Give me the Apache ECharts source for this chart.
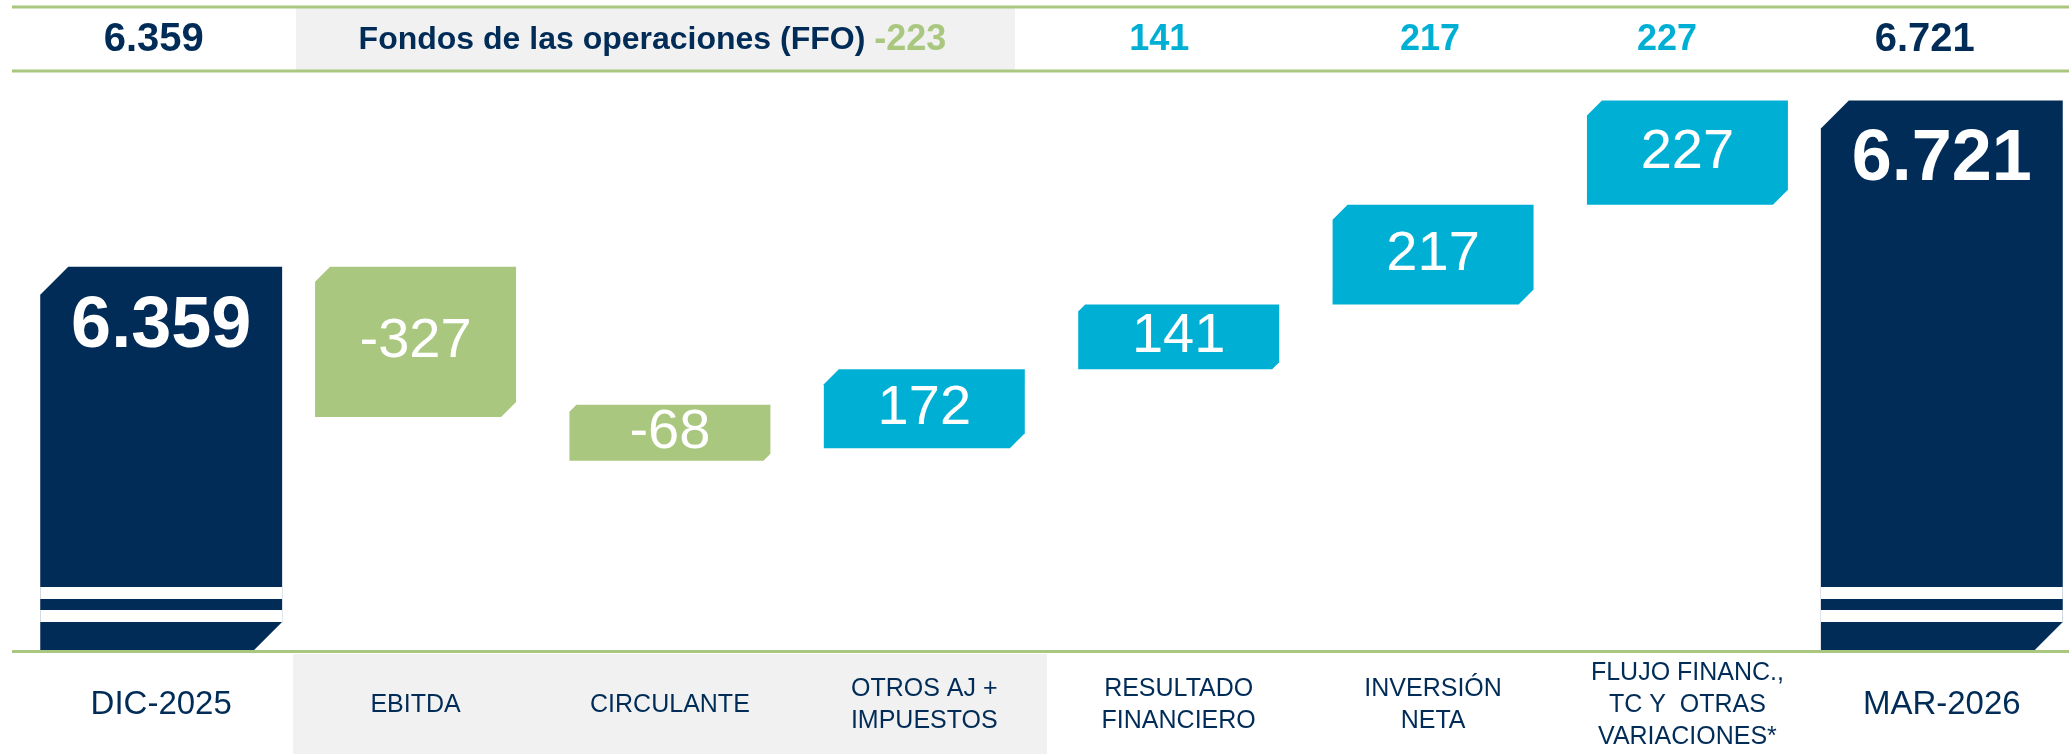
<!DOCTYPE html>
<html lang="es">
<head>
<meta charset="UTF-8">
<title>Deuda neta</title>
<script src="https://cdn.jsdelivr.net/npm/echarts@6/dist/echarts.min.js"></script>
<style>
  html, body { margin: 0; padding: 0; background: #fff; }
  #main { width: 2069px; height: 754px; }
</style>
</head>
<body>
<div id="main"></div>
<script>
// datos
var categories = ['DIC-2025', 'EBITDA', 'CIRCULANTE', 'OTROS AJ +\nIMPUESTOS', 'RESULTADO\nFINANCIERO',
    'INVERSIÓN\nNETA', 'FLUJO FINANC.,\nTC Y  OTRAS\nVARIACIONES*', 'MAR-2026'];
var startTotal = 6359;
var steps = [-327, -68, 172, 141, 217, 227];
var endTotal = 6721;
var ffoTitle = 'Fondos de las operaciones (FFO)';
var ffoSteps = 3; // los tres primeros pasos forman el FFO

var NAVY = '#002c57', GREEN = '#a9c77f', CYAN = '#00b0d4', LINE = '#a9c77e', GRAY = '#f1f1f1';
var FONT = '"Liberation Sans", Arial, sans-serif';
var yMin = 5525, yMax = 6785;
var headerShift = [15, 0, 35, 0, 39, 6, 41, 34];
var minStepHeight = 56; // como barMinHeight, centrado en el tramo

function fmt(v) {
    var s = String(Math.abs(v)).replace(/\B(?=(\d{3})+(?!\d))/g, '.');
    return (v < 0 ? '-' : '') + s;
}

var ffoSum = 0;
for (var k = 0; k < ffoSteps; k++) ffoSum += steps[k];

// filas de la cascada: [indice, bajo, alto, tipo (0 total, 1 paso), valor]
var rows = [];
rows.push([0, yMin, startTotal, 0, startTotal]);
var level = startTotal;
steps.forEach(function (s, i) {
    var next = level + s;
    rows.push([i + 1, Math.min(level, next), Math.max(level, next), 1, s]);
    level = next;
});
rows.push([steps.length + 1, yMin, endTotal, 0, endTotal]);

function renderBar(params, api) {
    var idx = api.value(0), lo = api.value(1), hi = api.value(2), kind = api.value(3), val = api.value(4);
    var band = api.size([1, 0])[0];
    var cs = params.coordSys;
    var top = api.coord([idx, hi]);
    var cx = top[0], yTop = top[1];
    var yBot = kind === 0 ? cs.y + cs.height : api.coord([idx, lo])[1];
    if (kind === 1 && yBot - yTop < minStepHeight) {
        var mid = (yTop + yBot) / 2;
        yTop = mid - minStepHeight / 2;
        yBot = mid + minStepHeight / 2;
    }
    var w = band * (kind === 0 ? 0.951 : 0.79);
    var x0 = cx - w / 2, x1 = cx + w / 2;
    var h = yBot - yTop;
    var ch = kind === 0 ? 28 : (h < 65 ? 7 : 15);
    var color = kind === 0 ? NAVY : (val < 0 ? GREEN : CYAN);
    var children = [{
        type: 'polygon',
        shape: { points: [[x0, yTop + ch], [x0 + ch, yTop], [x1, yTop], [x1, yBot - ch], [x1 - ch, yBot], [x0, yBot]] },
        style: { fill: color }
    }];
    if (kind === 0) {
        children.push({ type: 'rect', shape: { x: x0, y: yBot - 63, width: w, height: 12 }, style: { fill: '#fff' } });
        children.push({ type: 'rect', shape: { x: x0, y: yBot - 40, width: w, height: 12 }, style: { fill: '#fff' } });
    }
    children.push({
        type: 'text',
        style: {
            text: fmt(val),
            x: cx,
            y: kind === 0 ? yTop + 60 : (yTop + yBot) / 2,
            align: 'center',
            verticalAlign: 'middle',
            fill: '#fff',
            fontSize: kind === 0 ? 72 : 56,
            fontWeight: kind === 0 ? 'bold' : 'normal',
            fontFamily: FONT
        }
    });
    return { type: 'group', children: children };
}

var headerRich = {
    nv: { color: NAVY, fontSize: 40, fontWeight: 'bold', fontFamily: FONT },
    cy: { color: CYAN, fontSize: 36, fontWeight: 'bold', fontFamily: FONT },
    gr: { color: GREEN, fontSize: 36, fontWeight: 'bold', fontFamily: FONT },
    nm: { color: NAVY, fontSize: 32, fontWeight: 'bold', fontFamily: FONT }
};
headerShift.forEach(function (s, i) {
    headerRich['sp' + i] = { width: s, height: 10 };
});

var chart = echarts.init(document.getElementById('main'));
chart.setOption({
    animation: false,
    backgroundColor: '#fff',
    grid: { left: 34, width: 2044, top: 71, bottom: 104 },
    graphic: [
        { type: 'rect', z: -10, shape: { x: 296, y: 8, width: 719, height: 62 }, style: { fill: GRAY } },
        { type: 'rect', z: -10, shape: { x: 293, y: 654, width: 754, height: 100 }, style: { fill: GRAY } },
        { type: 'line', z: -5, shape: { x1: 12, y1: 7, x2: 2069, y2: 7 }, style: { stroke: LINE, lineWidth: 3 } },
        { type: 'line', z: -5, shape: { x1: 12, y1: 71, x2: 2069, y2: 71 }, style: { stroke: LINE, lineWidth: 3 } },
        { type: 'line', z: -5, shape: { x1: 12, y1: 651.5, x2: 2069, y2: 651.5 }, style: { stroke: LINE, lineWidth: 3 } }
    ],
    xAxis: [{
        type: 'category',
        data: categories,
        position: 'bottom',
        axisLine: { show: false },
        axisTick: { show: false },
        axisLabel: {
            interval: 0,
            margin: 55,
            verticalAlign: 'middle',
            color: NAVY,
            fontFamily: FONT,
            fontSize: 25,
            lineHeight: 32,
            formatter: function (v, i) {
                if (i === 0 || i === categories.length - 1) return '{big|' + v + '}';
                return v;
            },
            rich: { big: { fontSize: 33, color: NAVY, fontFamily: FONT } }
        }
    }, {
        type: 'category',
        data: categories,
        position: 'top',
        axisLine: { show: false },
        axisTick: { show: false },
        axisLabel: {
            interval: 0,
            hideOverlap: false,
            margin: 31,
            verticalAlign: 'middle',
            formatter: function (v, i) {
                var sp = '{sp' + i + '|}';
                if (i === 0) return '{nv|' + fmt(startTotal) + '}' + sp;
                if (i === categories.length - 1) return '{nv|' + fmt(endTotal) + '}' + sp;
                if (i === 2) return '{nm|' + ffoTitle + ' }{gr|' + fmt(ffoSum) + '}' + sp;
                if (i > ffoSteps) return '{cy|' + fmt(steps[i - 1]) + '}' + sp;
                return '';
            },
            rich: headerRich
        }
    }],
    yAxis: {
        type: 'value',
        min: yMin,
        max: yMax,
        show: false,
        splitLine: { show: false }
    },
    series: [{
        type: 'custom',
        renderItem: renderBar,
        encode: { x: 0, y: [1, 2] },
        data: rows
    }]
});
</script>
</body>
</html>
